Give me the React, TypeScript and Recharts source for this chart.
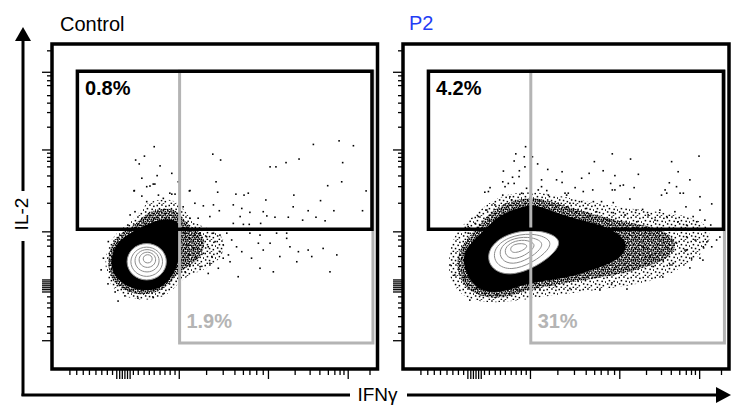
import { ScatterChart, Scatter, XAxis, YAxis, ReferenceArea } from 'recharts'

type Pt = [number, number]

// axis tick positions (display units of the biexponential scale, 0-100)
const xTicks = [5.5, 7.6, 9.6, 11.5, 13.5, 15.3, 17.0, 18.6, 19.9, 20.8, 21.6, 22.4, 23.2, 24.0, 25.0, 26.5, 28.3, 29.9, 31.4, 33.2, 34.7, 36.3, 37.8, 39.1, 47.5, 52.6, 56.2, 58.8, 60.8, 62.9, 64.9, 66.5, 74.7, 79.3, 82.3, 84.9, 86.9, 88.5, 89.7, 91.0, 97.7]
const xTicksLong = [19.9, 20.8, 21.6, 22.4, 23.2, 24.0, 39.1, 66.5, 91.0]
const yTicks = [97.9, 91.3, 90.2, 88.7, 87.2, 84.1, 81.8, 78.9, 74.4, 67.4, 66.4, 65.1, 63.9, 62.2, 59.4, 56.1, 51.0, 42.2, 40.9, 39.7, 37.8, 34.6, 31.5, 27.4, 26.8, 26.2, 25.6, 25.0, 24.4, 23.7, 22.2, 20.3, 18.8, 16.1, 13.0, 11.0, 8.7]
const yTicksLong = [91.3, 67.4, 42.2, 27.4, 26.8, 26.2, 25.6, 25.0, 24.4, 23.7, 8.7]

// gates
const il2GateX = [7.8, 98.3]
const il2GateY = [43, 91.6]
const ifnGateX = [39.2, 98.6]
const ifnGateY = [8, 91.6]

const titles = ['Control', 'P2']
const controlPercents = ['0.8%', '1.9%']
const p2Percents = ['4.2%', '31%']

// Control: dense core outline, speckled halos, single events, contour rings
const controlCore: Pt[] = [[17.8, 32.9], [19.4, 38.2], [22.4, 40.9], [27.0, 43.4], [30.7, 45.2], [34.7, 46.2], [38.1, 45.8], [39.3, 44.3], [39.9, 38.2], [38.7, 32.0], [36.3, 27.4], [32.6, 24.3], [27.0, 24.0], [22.1, 25.8], [19.0, 28.9]]
const controlInner: Pt[] = [[16.9, 32.9], [18.1, 38.5], [21.2, 41.9], [25.8, 44.6], [28.9, 48.0], [32.6, 49.2], [36.9, 49.5], [39.6, 47.7], [41.2, 44.6], [44.9, 42.8], [47.3, 39.7], [46.1, 34.8], [42.4, 31.7], [38.7, 29.8], [35.6, 25.5], [31.6, 23.1], [26.4, 22.8], [21.5, 24.3], [18.1, 27.4]]
const controlOuter: Pt[] = [[16.0, 32.9], [17.5, 39.2], [21.0, 43.0], [25.6, 46.2], [28.2, 50.8], [32.6, 52.2], [37.2, 52.3], [40.4, 49.6], [43.4, 44.5], [49.0, 43.2], [53.6, 40.2], [52.4, 34.0], [46.5, 30.2], [40.5, 28.4], [37.4, 24.4], [33.4, 21.6], [27.0, 21.0], [21.0, 22.6], [17.2, 26.4]]
const controlDots: Pt[] = [
  [31.4, 68.4], [25.7, 64.3], [28.4, 65.5], [26.8, 63.1], [33.2, 62.5], [36.8, 60.2], [32.3, 59.5], [27.6, 58.7], [31.1, 56.9], [29.1, 56.1],
  [25.2, 54.8], [38.8, 57.6], [49.4, 66.1], [51.8, 64.3], [50.4, 57.6], [42.2, 54.8], [50.9, 54.4], [56.5, 53.8], [60.3, 54.1], [67.0, 62.2],
  [68.8, 62.2], [71.9, 63.5], [75.9, 64.6], [80.3, 69.1], [88.2, 70.2], [92.6, 68.7], [89.3, 63.5], [89.0, 57.6], [84.7, 56.4], [74.3, 53.5],
  [96.5, 54.8], [42.4, 54.9], [36.8, 53.8], [37.8, 53.8], [59.0, 53.5], [65.7, 52.0], [40.3, 49.9], [43.9, 51.0], [46.5, 50.2], [49.6, 50.5],
  [55.7, 50.5], [58.3, 49.4], [51.4, 48.7], [60.8, 48.2], [64.9, 48.4], [66.0, 47.1], [57.8, 46.9], [74.1, 49.9], [78.7, 48.7], [82.5, 51.8],
  [86.6, 48.7], [95.4, 48.7], [68.5, 46.7], [72.6, 46.7], [77.0, 45.8], [81.1, 46.7], [83.9, 45.6], [64.1, 44.8], [55.7, 44.8], [58.8, 44.5],
  [60.6, 44.5], [42.4, 46.4], [44.9, 46.4], [41.4, 45.0], [48.5, 46.9], [31.6, 56.9], [30.1, 56.3], [25.3, 54.9], [32.7, 53.5], [27.6, 53.2],
  [34.2, 52.5], [29.1, 51.5], [36.2, 54.1], [25.5, 48.4], [24.0, 47.4], [23.3, 44.3],
  [40.9, 41.8], [42.4, 40.2], [43.9, 41.2], [45.5, 41.9], [47.5, 40.7], [49.6, 41.8], [51.6, 41.2], [53.7, 41.8], [41.4, 38.2], [43.4, 37.1],
  [46.0, 38.7], [48.0, 37.6], [50.1, 39.2], [52.6, 38.2], [55.2, 39.7], [41.9, 35.1], [44.5, 34.1], [46.5, 35.6], [49.1, 34.6], [51.6, 36.1],
  [54.2, 35.1], [42.4, 32.0], [45.5, 31.5], [48.5, 32.5], [51.1, 31.0], [40.9, 29.9], [48.0, 29.4], [57.2, 28.4], [56.7, 37.6], [58.3, 36.1],
  [60.8, 41.8], [63.4, 38.7], [64.9, 36.6], [67.0, 38.7], [69.0, 41.8], [70.0, 34.6], [72.1, 40.2], [73.1, 37.6], [75.7, 36.1], [75.2, 33.0],
  [78.7, 36.6], [79.8, 34.6], [83.3, 37.1], [87.5, 35.1], [63.9, 41.2], [61.3, 34.1], [68.0, 29.9], [85.4, 29.9], [63.9, 31.0], [54.7, 33.0],
  [52.6, 34.1], [72.1, 41.8],
  [15.8, 34.1], [17.3, 39.2], [15.1, 30.5], [17.2, 26.2], [19.4, 23.7], [22.4, 22.5], [26.4, 21.8], [31.0, 22.2], [34.1, 23.1], [20.3, 20.9],
]
const controlRings: Pt[][] = [
  [[35.8, 33.0], [33.8, 37.4], [29.1, 39.2], [24.4, 37.4], [22.4, 33.0], [24.4, 28.6], [29.1, 26.8], [33.8, 28.6]],
  [[34.5, 33.0], [32.9, 36.5], [29.1, 38.0], [25.3, 36.5], [23.7, 33.0], [25.3, 29.5], [29.1, 28.0], [32.9, 29.5]],
  [[33.3, 33.3], [32.1, 36.0], [29.2, 37.1], [26.3, 36.0], [25.1, 33.3], [26.3, 30.6], [29.2, 29.5], [32.1, 30.6]],
  [[32.1, 33.6], [31.3, 35.4], [29.3, 36.2], [27.3, 35.4], [26.5, 33.6], [27.3, 31.8], [29.3, 31.0], [31.3, 31.8]],
  [[30.9, 33.9], [30.5, 34.9], [29.4, 35.3], [28.3, 34.9], [27.9, 33.9], [28.3, 32.9], [29.4, 32.5], [30.5, 32.9]],
]

// P2
const p2Core: Pt[] = [[18.1, 32.9], [19.3, 37.2], [22.4, 40.3], [26.1, 44.0], [29.8, 47.4], [34.4, 49.2], [39.0, 50.8], [43.6, 49.5], [48.2, 47.7], [54.3, 45.8], [62.0, 44.0], [65.0, 42.2], [69.0, 39.1], [67.8, 34.8], [62.0, 31.7], [55.8, 29.8], [52.8, 28.6], [45.1, 27.4], [37.4, 26.2], [31.3, 23.7], [25.2, 23.4], [20.6, 26.5]]
const p2Inner: Pt[] = [[16.3, 32.9], [17.8, 37.8], [20.9, 41.5], [24.5, 45.5], [28.5, 49.8], [34.0, 52.0], [39.6, 52.9], [45.1, 51.7], [50.6, 49.8], [57.3, 48.0], [65.0, 45.8], [74.2, 44.3], [81.3, 42.2], [84.3, 38.5], [81.9, 34.2], [74.2, 31.1], [65.0, 28.9], [55.8, 27.4], [46.6, 25.8], [38.3, 24.3], [31.3, 21.8], [25.1, 21.8], [19.9, 24.3], [17.2, 28.0]]
const p2Outer: Pt[] = [[13.8, 32.9], [15.0, 39.7], [18.1, 44.3], [23.0, 48.3], [27.3, 52.0], [34.4, 54.5], [42.0, 54.5], [51.2, 52.6], [60.4, 50.8], [72.7, 48.9], [85.0, 47.7], [92.6, 45.2], [94.8, 40.9], [92.6, 36.0], [87.4, 32.3], [78.8, 27.4], [66.6, 25.2], [54.3, 23.7], [42.0, 22.2], [32.8, 20.6], [23.6, 20.3], [17.5, 22.8], [14.4, 27.4]]
const p2Dots: Pt[] = [
  [37.6, 68.4], [34.6, 66.2], [37.2, 65.3], [39.7, 65.3], [34.1, 64.0], [41.3, 63.1], [37.4, 62.2], [30.8, 60.9], [35.7, 61.0], [44.4, 61.4],
  [48.8, 60.7], [33.6, 59.0], [35.6, 59.2], [30.6, 57.6], [32.3, 57.1], [34.1, 57.1], [42.5, 58.2], [47.1, 58.2], [48.8, 57.4], [26.7, 55.8],
  [25.1, 54.4], [30.6, 53.5], [32.8, 53.0], [37.9, 55.6], [42.5, 56.1], [44.1, 54.9], [50.2, 53.5], [54.8, 58.7], [57.1, 60.2], [58.7, 63.8],
  [61.4, 61.0], [64.2, 66.2], [65.0, 59.5], [63.7, 57.1], [66.6, 56.4], [67.6, 56.6], [69.8, 64.6], [72.2, 59.9], [70.9, 55.8], [55.3, 54.6],
  [58.2, 55.1], [64.2, 55.1], [82.4, 63.8], [84.4, 60.7], [81.7, 57.3], [83.9, 56.1], [88.0, 58.2], [90.8, 65.5], [80.4, 55.1], [79.3, 53.5],
  [85.0, 54.1], [91.1, 53.0], [52.8, 55.8], [65.0, 55.1], [78.8, 48.9], [80.9, 54.1], [86.0, 54.1], [94.7, 50.8], [49.7, 54.1], [51.2, 51.0],
  [54.8, 51.5], [58.4, 51.5], [60.9, 51.5], [64.5, 51.2], [69.6, 52.3], [71.5, 48.9], [73.5, 49.1], [83.4, 48.4], [86.8, 49.9], [89.0, 46.9],
  [91.1, 48.9], [92.6, 45.8], [75.2, 47.4], [77.3, 45.8], [80.9, 46.9], [84.4, 45.3], [68.1, 47.4], [64.5, 48.1], [59.4, 48.4], [56.3, 49.4],
  [62.5, 45.8], [71.7, 45.3], [87.0, 44.3], [90.1, 45.3], [94.4, 44.3], [57.4, 46.9], [53.3, 48.4], [50.2, 49.9], [26.2, 54.6], [31.3, 56.1],
  [25.7, 48.9], [28.2, 50.5], [23.1, 46.9], [33.3, 52.0], [36.4, 54.1], [41.5, 55.1], [44.6, 53.5], [47.6, 51.0], [50.7, 54.1], [22.1, 44.8],
  [20.0, 43.8],
  [87.0, 40.7], [89.6, 39.7], [92.1, 37.6], [96.2, 39.7], [94.7, 37.6], [83.9, 38.7], [88.5, 34.1], [87.0, 36.6], [91.1, 34.1], [82.9, 32.5],
  [79.8, 33.5], [75.8, 34.6], [76.8, 31.5], [73.7, 37.6], [92.0, 33.5], [68.7, 24.6], [97.2, 40.6], [93.2, 39.1], [88.0, 31.1], [79.7, 28.3],
  [86.5, 36.6], [81.9, 32.0],
  [18.0, 34.1], [19.5, 38.7], [20.5, 30.5], [22.6, 24.8], [25.1, 23.3], [28.7, 22.8], [32.8, 23.3], [34.9, 24.3], [20.0, 41.8], [19.0, 28.4],
  [41.0, 26.4], [42.0, 24.3], [47.1, 25.3], [51.2, 24.8], [14.4, 32.0], [15.9, 28.9], [20.5, 21.2], [60.4, 24.3], [64.1, 26.5],
]
const p2Rings: Pt[][] = [
  [[48.5, 40.5], [40.9, 43.2], [31.0, 41.6], [25.6, 36.5], [26.6, 30.8], [32.6, 28.4], [40.9, 31.3], [47.5, 36.5]],
  [[45.6, 39.9], [39.7, 42.0], [31.9, 40.7], [27.5, 36.7], [28.3, 32.1], [33.1, 30.2], [39.7, 32.6], [44.9, 36.7]],
  [[43.0, 39.3], [38.5, 40.9], [32.6, 40.0], [29.4, 36.9], [30.0, 33.5], [33.6, 32.0], [38.5, 33.8], [42.4, 36.9]],
  [[40.5, 38.7], [37.4, 39.9], [33.4, 39.2], [31.1, 37.1], [31.5, 34.7], [34.0, 33.7], [37.4, 34.9], [40.1, 37.1]],
  [[38.1, 38.2], [36.4, 38.7], [34.1, 38.4], [32.9, 37.3], [33.1, 36.1], [34.4, 35.7], [36.4, 36.3], [37.9, 37.3]],
]

const FONT = '"Liberation Sans", Arial, Helvetica, sans-serif'
const toPts = (pts: Pt[]) => pts.map(([x, y]) => ({ x, y }))
const box = (xs: number[], ys: number[]) => [
  { x: xs[0], y: ys[1] }, { x: xs[1], y: ys[1] }, { x: xs[1], y: ys[0] }, { x: xs[0], y: ys[0] },
]

// speck layouts for the two density fills
const denseSpecks: Pt[] = [[0.2, 0.3], [2.5, 0.0], [4.6, 0.8], [7.1, 0.2], [8.8, 1.1], [1.2, 2.2], [3.4, 2.6], [5.9, 2.4], [8.0, 3.0], [0.0, 4.4], [2.3, 4.7], [4.5, 4.2], [6.7, 4.9], [8.9, 4.6], [1.4, 6.6], [3.6, 6.9], [5.5, 6.4], [7.7, 6.8], [0.5, 8.6], [2.7, 8.9], [4.7, 8.4], [6.6, 8.8], [8.6, 8.3]]
const lightSpecks: Pt[] = [[0.5, 0.8], [5.2, 0.3], [9.1, 1.6], [2.7, 3.9], [7.4, 4.6], [11.0, 5.3], [0.9, 7.2], [4.8, 7.8], [8.6, 8.9], [2.6, 10.7], [6.7, 11.2]]

const Hidden = () => <g />
const Speck = ({ cx, cy }: any) => <rect x={cx - 0.8} y={cy - 0.8} width={1.6} height={1.6} fill="#000" />

const XTick = ({ x, y, payload }: any) => (
  <line x1={x} x2={x} y1={y} y2={y + (xTicksLong.includes(payload.value) ? 10 : 6)} stroke="#000" strokeWidth={1.3} />
)
const YTick = ({ x, y, payload }: any) => (
  <line x1={x - (yTicksLong.includes(payload.value) ? 10 : 5)} x2={x} y1={y} y2={y} stroke="#000" strokeWidth={1.3} />
)

const pctLabel = (color: string) => ({ cx, cy, payload }: any) => (
  <text x={cx} y={cy} fill={color} fontSize={20} fontWeight="bold" fontFamily={FONT}>{payload.text}</text>
)

interface PanelProps {
  width: number
  margin: { top: number; right: number; bottom: number; left: number }
  core: Pt[]
  inner: Pt[]
  outer: Pt[]
  dots: Pt[]
  rings: Pt[][]
  percents: string[]
}

const Panel = ({ width, margin, core, inner, outer, dots, rings, percents }: PanelProps) => (
  <ScatterChart width={width} height={406} margin={margin}>
    <XAxis type="number" dataKey="x" domain={[0, 100]} ticks={xTicks} interval={0} height={12}
      axisLine={false} tickLine={false} tickSize={0} tickMargin={0} tick={<XTick />} />
    <YAxis type="number" dataKey="y" domain={[0, 100]} ticks={yTicks} interval={0} width={12}
      axisLine={false} tickLine={false} tickSize={0} tickMargin={0} tick={<YTick />} />
    <ReferenceArea x1={0} x2={100} y1={0} y2={100} fill="none" stroke="#000" strokeWidth={3.5} ifOverflow="visible" />
    <Scatter data={toPts(outer)} shape={Hidden} isAnimationActive={false}
      line={{ fill: 'url(#speckLight)', stroke: 'none' }} lineJointType="basisClosed" />
    <Scatter data={toPts(inner)} shape={Hidden} isAnimationActive={false}
      line={{ fill: 'url(#speckDense)', stroke: 'none' }} lineJointType="basisClosed" />
    <Scatter data={toPts(core)} shape={Hidden} isAnimationActive={false}
      line={{ fill: '#000', stroke: 'none' }} lineJointType="basisClosed" />
    <Scatter data={toPts(dots)} shape={Speck} isAnimationActive={false} />
    {rings.map((ring, i) => (
      <Scatter key={i} data={toPts(ring)} shape={Hidden} isAnimationActive={false}
        line={{ fill: i === 0 ? '#fff' : 'none', stroke: '#8c8c8c', strokeWidth: 1 }} lineJointType="basisClosed" />
    ))}
    <Scatter data={box(ifnGateX, ifnGateY)} shape={Hidden} isAnimationActive={false}
      line={{ fill: 'none', stroke: '#b4b4b4', strokeWidth: 3 }} lineJointType="linearClosed" />
    <Scatter data={box(il2GateX, il2GateY)} shape={Hidden} isAnimationActive={false}
      line={{ fill: 'none', stroke: '#000', strokeWidth: 3.5 }} lineJointType="linearClosed" />
    <Scatter data={[{ x: il2GateX[0] + 2.3, y: il2GateY[1] - 7.3, text: percents[0] }]} shape={pctLabel('#000')} isAnimationActive={false} />
    <Scatter data={[{ x: ifnGateX[0] + 2.1, y: ifnGateY[0] + 4.5, text: percents[1] }]} shape={pctLabel('#b4b4b4')} isAnimationActive={false} />
  </ScatterChart>
)

export default function App() {
  return (
    <div style={{ position: 'absolute', left: 0, top: 0, width: 737, height: 406, background: '#fff', fontFamily: FONT }}>
      <svg width={0} height={0} style={{ position: 'absolute' }}>
        <defs>
          <pattern id="speckDense" width={10} height={10} patternUnits="userSpaceOnUse">
            {denseSpecks.map(([x, y], i) => <rect key={i} x={x} y={y} width={1.6} height={1.6} fill="#000" />)}
          </pattern>
          <pattern id="speckLight" width={12} height={12} patternUnits="userSpaceOnUse">
            {lightSpecks.map(([x, y], i) => <rect key={i} x={x} y={y} width={1.5} height={1.5} fill="#000" />)}
          </pattern>
        </defs>
      </svg>
      <div style={{ position: 'absolute', left: 0, top: 0 }}>
        <Panel width={390} margin={{ top: 44, right: 12.5, bottom: 25, left: 40 }}
          core={controlCore} inner={controlInner} outer={controlOuter} dots={controlDots} rings={controlRings} percents={controlPercents} />
      </div>
      <div style={{ position: 'absolute', left: 390, top: 0 }}>
        <Panel width={347} margin={{ top: 44, right: 8, bottom: 25, left: 1 }}
          core={p2Core} inner={p2Inner} outer={p2Outer} dots={p2Dots} rings={p2Rings} percents={p2Percents} />
      </div>
      <svg width={737} height={406} style={{ position: 'absolute', left: 0, top: 0, pointerEvents: 'none' }}>
        <text x={60} y={31} fontSize={20} fontFamily={FONT} fill="#000">{titles[0]}</text>
        <text x={409} y={30} fontSize={20} fontFamily={FONT} fill="#1f3df5">{titles[1]}</text>
        <line x1={23} x2={23} y1={40} y2={191} stroke="#000" strokeWidth={3} />
        <polygon points="15,41 31,41 23,27" fill="#000" />
        <text transform="translate(28,214) rotate(-90)" textAnchor="middle" fontSize={19} fontFamily={FONT} fill="#000">IL-2</text>
        <line x1={23} x2={23} y1={241} y2={396} stroke="#000" strokeWidth={3} />
        <line x1={21.5} x2={350} y1={395} y2={395} stroke="#000" strokeWidth={3} />
        <text x={377.5} y={401} textAnchor="middle" fontSize={19} fontFamily={FONT} fill="#000">IFNγ</text>
        <line x1={407} x2={717} y1={395} y2={395} stroke="#000" strokeWidth={3} />
        <polygon points="716,387 716,403 731,395" fill="#000" />
      </svg>
    </div>
  )
}
